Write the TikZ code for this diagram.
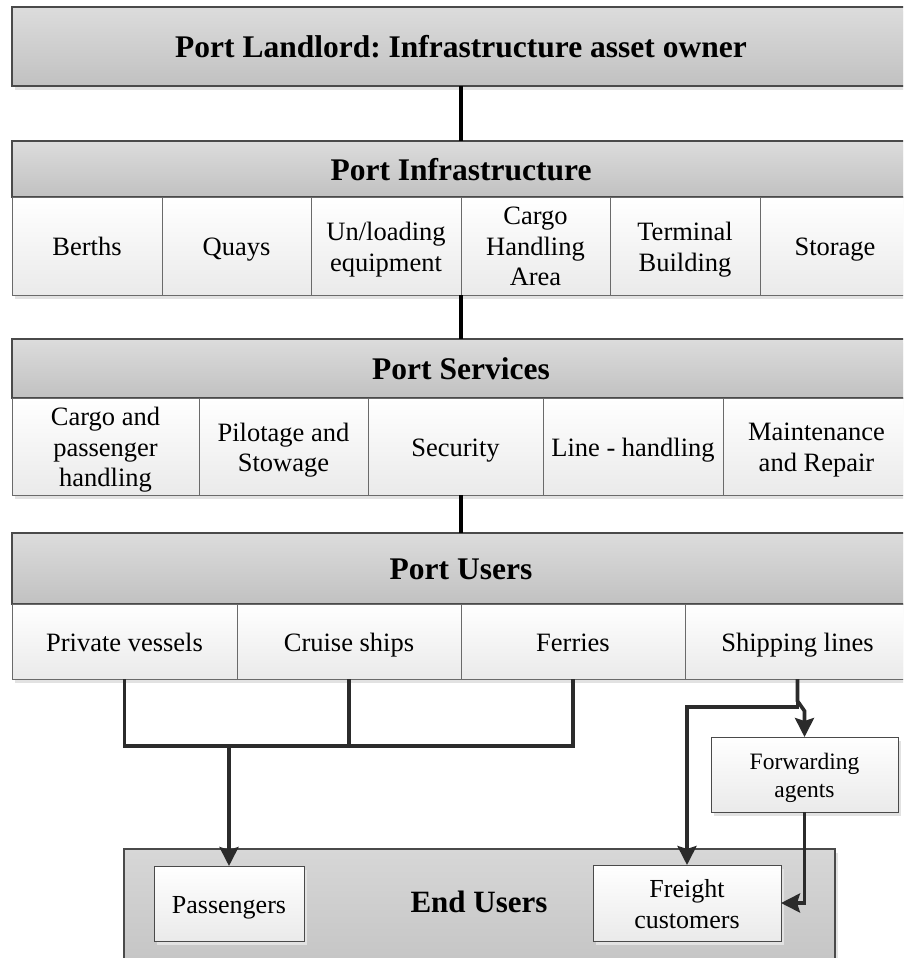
\documentclass[tikz,border=0pt]{standalone}
\usepackage{fontspec}
\setmainfont{Liberation Serif}
\usetikzlibrary{arrows.meta,shadows,calc}

\definecolor{hdrtop}{HTML}{DCDCDC}
\definecolor{hdrbot}{HTML}{C1C1C1}
\definecolor{celltop}{HTML}{FFFFFF}
\definecolor{cellbot}{HTML}{EAEAEA}
\definecolor{endtop}{HTML}{D7D7D7}
\definecolor{endbot}{HTML}{C5C5C5}
\definecolor{boxedge}{HTML}{4A4A4A}
\definecolor{celledge}{HTML}{6A6A6A}
\definecolor{shadowgray}{HTML}{E2E2E2}
\definecolor{wire}{HTML}{2B2B2B}

\tikzset{
  panel/.style={anchor=north west, inner sep=0pt, outer sep=0pt,
    draw=boxedge, line width=1.1pt,
    drop shadow={shadow xshift=3pt, shadow yshift=-4pt, fill=shadowgray, opacity=1}},
  header/.style={panel, top color=hdrtop, bottom color=hdrbot,
    font=\fontsize{31.5}{36}\selectfont\bfseries},
  cellbox/.style={panel, draw=celledge, line width=0.9pt,
    top color=celltop, bottom color=cellbot},
  endbox/.style={panel, top color=endtop, bottom color=endbot},
  % every line block gets the same ascent and descent, so baselines line up
  evenlines/.style={execute at begin node={\vphantom{Ahg}},
    execute at end node={\vphantom{Ahg}}},
  label text/.style={evenlines, inner sep=0pt, yshift=-3.5pt},
  celltext/.style={align=center, label text,
    font=\fontsize{26.5}{30.5}\selectfont},
  smalltext/.style={align=center, label text,
    font=\fontsize{25.5}{30}\selectfont},
  headtext/.style={label text, font=\fontsize{31.5}{36}\selectfont\bfseries},
  mainlink/.style={draw=black, line width=3.5pt},
  link/.style={draw=wire, line width=3.6pt},
  arrowlink/.style={link, -{Stealth[length=19pt, width=19pt, inset=3pt]}}
}

\begin{document}
\frenchspacing
\begin{tikzpicture}[x=1pt, y=-1pt]
\clip (0,0) rectangle (903,958);
\fill[white] (0,0) rectangle (903,958);

% ---- Port landlord ----
\node[header, minimum width=898pt, minimum height=79pt] (landlord) at (12,7) {};
\node[headtext] (landlordt) at (landlord) {Port Landlord: Infrastructure asset owner};

% ---- Port infrastructure ----
\node[header, minimum width=898pt, minimum height=56pt] (infra) at (12,141) {};
\node[headtext] (infrat) at (infra) {Port Infrastructure};
\node[cellbox, minimum width=150pt, minimum height=98pt] (i1) at (12,197) {};
\node[cellbox, minimum width=149pt, minimum height=98pt] (i2) at (162,197) {};
\node[cellbox, minimum width=150pt, minimum height=98pt] (i3) at (311,197) {};
\node[cellbox, minimum width=149pt, minimum height=98pt] (i4) at (461,197) {};
\node[cellbox, minimum width=150pt, minimum height=98pt] (i5) at (610,197) {};
\node[cellbox, minimum width=150pt, minimum height=98pt] (i6) at (760,197) {};
\node[celltext] (i1t) at (i1) {Berths};
\node[celltext] (i2t) at (i2) {Quays};
\node[celltext] (i3t) at (i3) {Un/loading\\equipment};
\node[celltext] (i4t) at (i4) {Cargo\\Handling\\Area};
\node[celltext] (i5t) at (i5) {Terminal\\Building};
\node[celltext] (i6t) at (i6) {Storage};

% ---- Port services ----
\node[header, minimum width=898pt, minimum height=59pt] (services) at (12,339) {};
\node[headtext] (servicest) at (services) {Port Services};
\node[cellbox, minimum width=187pt, minimum height=97pt] (s1) at (12,398) {};
\node[cellbox, minimum width=169pt, minimum height=97pt] (s2) at (199,398) {};
\node[cellbox, minimum width=175pt, minimum height=97pt] (s3) at (368,398) {};
\node[cellbox, minimum width=180pt, minimum height=97pt] (s4) at (543,398) {};
\node[cellbox, minimum width=187pt, minimum height=97pt] (s5) at (723,398) {};
\node[celltext] (s1t) at (s1) {Cargo and\\passenger\\handling};
\node[celltext] (s2t) at (s2) {Pilotage and\\Stowage};
\node[celltext] (s3t) at (s3) {Security};
\node[celltext] (s4t) at (s4) {Line - handling};
\node[celltext] (s5t) at (s5) {Maintenance\\and Repair};

% ---- Port users ----
\node[header, minimum width=898pt, minimum height=71pt] (users) at (12,533) {};
\node[headtext] (userst) at (users) {Port Users};
\node[cellbox, minimum width=225pt, minimum height=75pt] (u1) at (12,604) {};
\node[cellbox, minimum width=224pt, minimum height=75pt] (u2) at (237,604) {};
\node[cellbox, minimum width=224pt, minimum height=75pt] (u3) at (461,604) {};
\node[cellbox, minimum width=225pt, minimum height=75pt] (u4) at (685,604) {};
\node[celltext] (u1t) at (u1) {Private vessels};
\node[celltext] (u2t) at (u2) {Cruise ships};
\node[celltext] (u3t) at (u3) {Ferries};
\node[celltext] (u4t) at (u4) {Shipping lines};

% ---- End users ----
\node[endbox, minimum width=711pt, minimum height=115pt] (endusers) at (124,849) {};
\node[headtext, font=\fontsize{31}{36}\selectfont\bfseries] (endlabel) at (479,902) {End Users};
\node[cellbox, draw=boxedge, minimum width=150pt, minimum height=75pt] (pass) at (154,866) {};
\node[smalltext, font=\fontsize{26}{30}\selectfont] (passt) at (pass) {Passengers};
\node[cellbox, draw=boxedge, minimum width=188pt, minimum height=76pt] (freight) at (593,865) {};
\node[smalltext, font=\fontsize{26}{31}\selectfont] (freightt) at (freight) {Freight\\customers};
\node[cellbox, draw=boxedge, minimum width=187pt, minimum height=75pt] (fwd) at (711,737) {};
\node[smalltext, font=\fontsize{23.5}{28.5}\selectfont] (fwdt) at (fwd) {Forwarding\\agents};

% ---- links between the layers ----
\draw[mainlink] (landlord.south) -- (infra.north);
\draw[mainlink] (i3.south east) -- (services.north);
\draw[mainlink] (users.north |- s3.south) -- (users.north);

% ---- passenger traffic ----
\path (pass.north) ++(0,-120) coordinate (join);
\draw[link] (u1.south) |- (join);
\draw[link] (u2.south) -- (u2.south |- join);
\draw[link] (u3.south) |- (join);
\draw[arrowlink] (join) -- (pass.north);

% ---- freight traffic ----
\draw[arrowlink] (u4.south) -- ++(0,28) -| (freight.north);
\draw[arrowlink] (u4.south) -- ++(0,22) -- ($(fwd.north)+(0,-26)$) -- (fwd.north);
\draw[arrowlink] (fwd.south) |- (freight.east);
\end{tikzpicture}
\end{document}
